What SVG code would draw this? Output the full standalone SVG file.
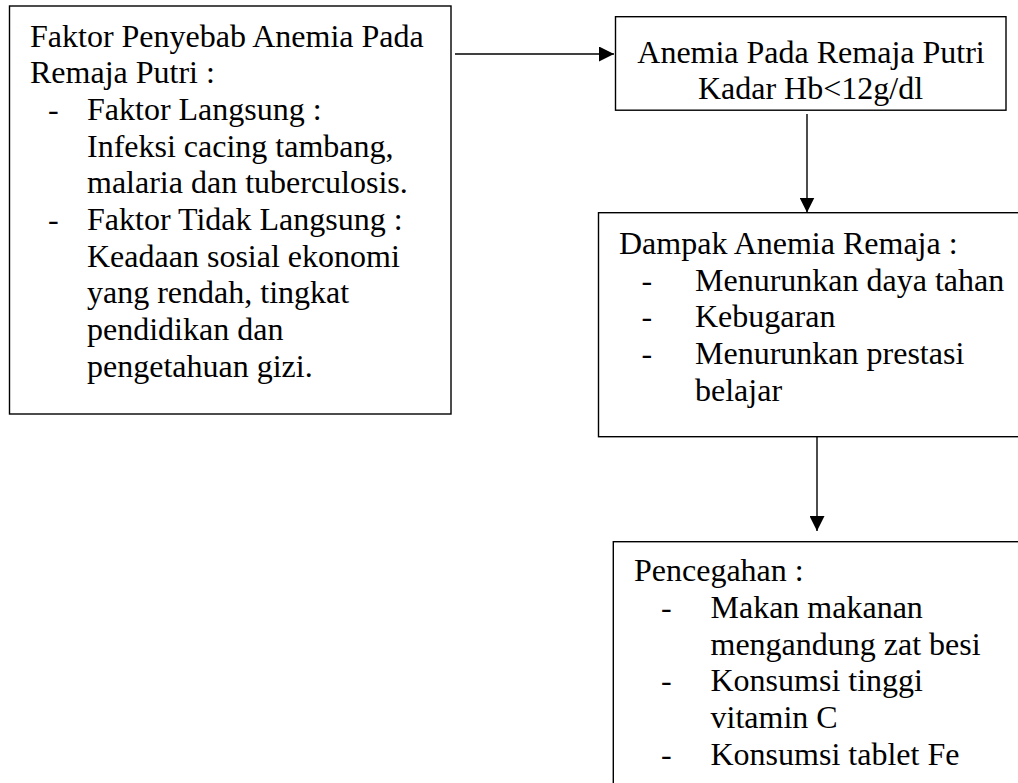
<svg xmlns="http://www.w3.org/2000/svg" width="1018" height="783" viewBox="0 0 1018 783">
<defs>
<style>
.box{fill:#fff;stroke:#000;stroke-width:1.4}
.t{font-family:"Liberation Serif","Times New Roman",serif;font-size:32px;fill:#000}
.c{text-anchor:middle}
.ln{stroke:#000;stroke-width:1.4;fill:none}
</style>
<marker id="ah" viewBox="0 0 15 15" refX="15" refY="7.5" markerWidth="15" markerHeight="15" markerUnits="userSpaceOnUse" orient="auto">
<path d="M0,0 L15,7.5 L0,15 z" fill="#000"/>
</marker>
</defs>
<rect width="1018" height="783" fill="#fff"/>
<g id="connectors">
<line class="ln" x1="455" y1="54" x2="614" y2="54" marker-end="url(#ah)"/>
<line class="ln" x1="807" y1="114" x2="807" y2="212.5" marker-end="url(#ah)"/>
<line class="ln" x1="817" y1="437" x2="817" y2="531" marker-end="url(#ah)"/>
</g>
<g id="penyebab">
<rect class="box" x="9.5" y="6" width="441.5" height="408"/>
<text class="t" x="30" y="46.7">Faktor Penyebab Anemia Pada</text>
<text class="t" x="30" y="83.3">Remaja Putri :</text>
<text class="t" x="48" y="120">-</text>
<text class="t" x="87" y="120">Faktor Langsung :</text>
<text class="t" x="87" y="156.7">Infeksi cacing tambang,</text>
<text class="t" x="87" y="193.3">malaria dan tuberculosis.</text>
<text class="t" x="48" y="230">-</text>
<text class="t" x="87" y="230">Faktor Tidak Langsung :</text>
<text class="t" x="87" y="266.7">Keadaan sosial ekonomi</text>
<text class="t" x="87" y="303.3">yang rendah, tingkat</text>
<text class="t" x="87" y="340">pendidikan dan</text>
<text class="t" x="87" y="376.7">pengetahuan gizi.</text>
</g>
<g id="anemia">
<rect class="box" x="615.5" y="16.7" width="390.5" height="93.5"/>
<text class="t c" x="811" y="63">Anemia Pada Remaja Putri</text>
<text class="t c" x="810.5" y="99">Kadar Hb&lt;12g/dl</text>
</g>
<g id="dampak">
<rect class="box" x="598.5" y="212.7" width="440" height="224"/>
<text class="t" x="619" y="253.5">Dampak Anemia Remaja :</text>
<text class="t" x="641.5" y="290.5">-</text>
<text class="t" x="695" y="290.5">Menurunkan daya tahan</text>
<text class="t" x="641.5" y="327.2">-</text>
<text class="t" x="695" y="327.2">Kebugaran</text>
<text class="t" x="641.5" y="364">-</text>
<text class="t" x="695" y="364">Menurunkan prestasi</text>
<text class="t" x="695" y="400.7">belajar</text>
</g>
<g id="pencegahan">
<rect class="box" x="613.3" y="541.7" width="430" height="260"/>
<text class="t" x="634" y="581.3">Pencegahan :</text>
<text class="t" x="661" y="618">-</text>
<text class="t" x="710.5" y="618">Makan makanan</text>
<text class="t" x="710.5" y="654.7">mengandung zat besi</text>
<text class="t" x="661" y="691.3">-</text>
<text class="t" x="710.5" y="691.3">Konsumsi tinggi</text>
<text class="t" x="710.5" y="728">vitamin C</text>
<text class="t" x="661" y="764.7">-</text>
<text class="t" x="710.5" y="764.7">Konsumsi tablet Fe</text>
</g>
</svg>
